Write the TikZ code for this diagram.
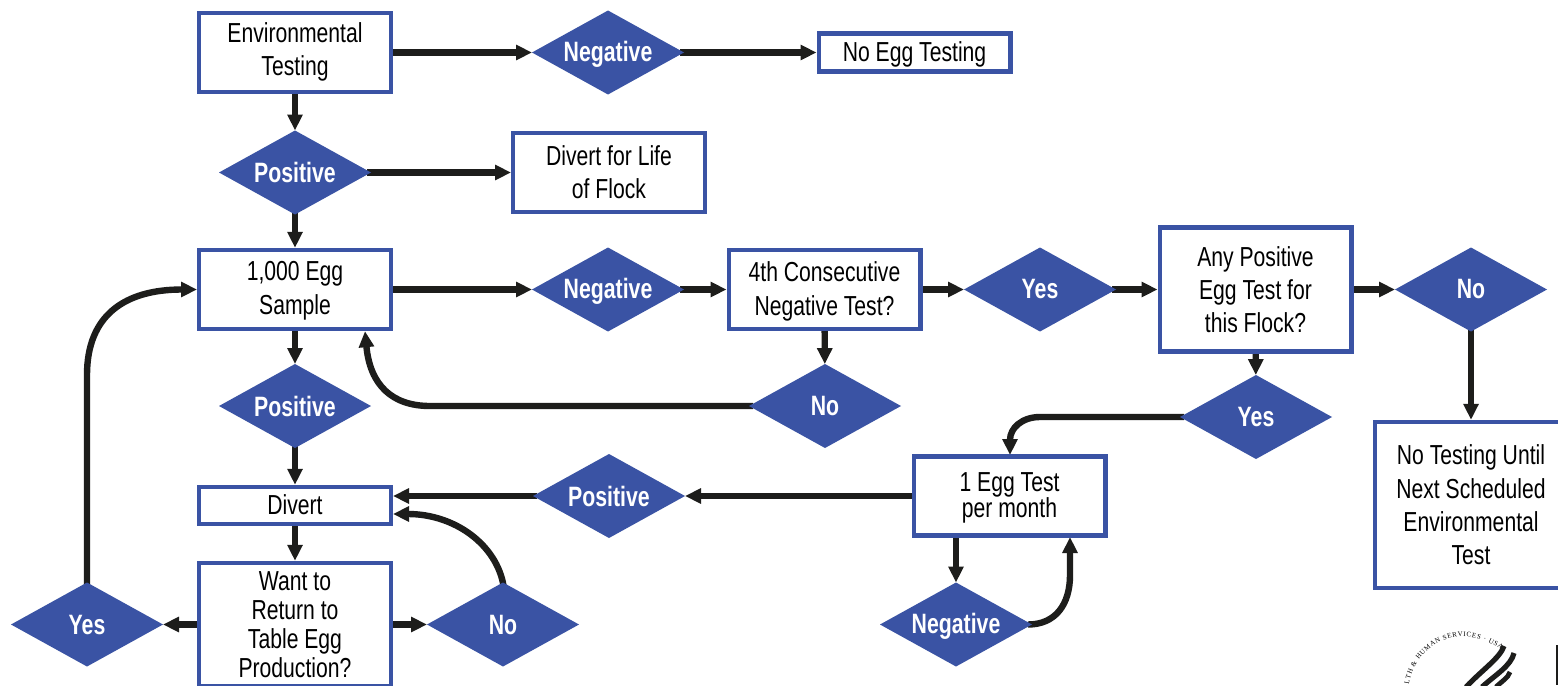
\documentclass[tikz,border=0pt]{standalone}
\usepackage{fontspec}
\setmainfont[FakeStretch=0.77,BoldFeatures={FakeStretch=0.76}]{Liberation Sans}
\newfontfamily\sealfont{Liberation Serif}
\usetikzlibrary{shapes.geometric,arrows.meta,decorations.text,backgrounds}
\definecolor{hhsblue}{HTML}{3A53A4}
\definecolor{ink}{HTML}{1D1D1B}
\tikzset{
  x=0.75pt,y=-0.75pt,
  boxnode/.style={draw=hhsblue,fill=white,line width=3.3pt,minimum width=143.7pt,inner sep=0pt,align=center,text=black},
  diam/.style={diamond,aspect=1.81,fill=hhsblue,minimum width=114pt,minimum height=63pt,inner sep=0pt,outer sep=0pt,text=white,font=\fontsize{21}{24}\selectfont\bfseries},
  conn/.style={draw=ink,line width=4.8pt,shorten <=-3pt,-{Triangle[length=12pt,width=11pt]}},
}
\newcommand{\ls}[1]{\fontsize{20.6}{#1}\selectfont}
\newcommand{\sh}[2]{\raisebox{#1}[\height][\depth]{#2}}
\begin{document}
\begin{tikzpicture}
\useasboundingbox (0,0) rectangle (1558,685);
\clip (0,0) rectangle (1558,685);
% boxes
\node[boxnode,minimum height=59.25pt,font=\ls{24.75}] (env) at (295,52.5) {\sh{0.5pt}{Environmental}\\\sh{0.5pt}{Testing}};
\node[boxnode,minimum height=28.5pt,font=\ls{24}] (noegg) at (914.5,52.5) {\sh{-1.5pt}{No Egg Testing}};
\node[boxnode,minimum height=59.25pt,font=\ls{24.75}] (life) at (609,172.5) {Divert for Life\\of Flock};
\node[boxnode,minimum height=59.25pt,font=\ls{25.5}] (thou) at (295,289.5) {\sh{-1pt}{1,000 Egg}\\\sh{-1pt}{Sample}};
\node[boxnode,minimum height=59.25pt,font=\ls{25.5}] (fourth) at (824.5,289.5) {\sh{-1.5pt}{4th Consecutive}\\\sh{-1.5pt}{Negative Test?}};
\node[boxnode,minimum height=93pt,font=\ls{24.75}] (any) at (1255.5,289.5) {Any Positive\\Egg Test for\\this Flock?};
\node[boxnode,minimum height=124.5pt,font=\ls{25}] (until) at (1471,505) {No Testing Until\\Next Scheduled\\Environmental\\Test};
\node[boxnode,minimum height=27.75pt,font=\ls{24}] (divert) at (295,505.5) {\sh{0.7pt}{Divert}};
\node[boxnode,minimum height=92.25pt,font=\ls{21.9}] (want) at (295,624.5) {Want to\\Return to\\Table Egg\\Production?};
\node[boxnode,minimum height=59.25pt,font=\ls{19.5}] (egg) at (1009.5,496) {\sh{-1.5pt}{1 Egg Test}\\\sh{-1.5pt}{per month}};
% diamonds
\node[diam] (d1) at (608,52.5) {\sh{-1.5pt}{Negative}};
\node[diam] (d2) at (295,172.5) {Positive};
\node[diam] (d3) at (608,289.5) {\sh{-1.5pt}{Negative}};
\node[diam] (d4) at (1040,289.5) {Yes};
\node[diam] (d5) at (1471,289.5) {No};
\node[diam] (d6) at (295,406) {Positive};
\node[diam] (d7) at (825,406) {No};
\node[diam] (d8) at (1256,417) {Yes};
\node[diam] (d9) at (609,496) {Positive};
\node[diam] (d10) at (87,624.5) {Yes};
\node[diam] (d11) at (503,624.5) {No};
\node[diam] (d12) at (956,624.5) {\sh{-1.5pt}{Negative}};
% free ends of connectors
\coordinate (thouin) at (thou.south -| 365,0);
\coordinate (eggtop) at (1010,455);
\coordinate (eggin) at (1070,537);
\coordinate (eggout) at (956,537);
\begin{pgfonlayer}{background}
\fill[white] (0,0) rectangle (1558,685);
% straight connectors
\draw[conn] (env) -- (d1);
\draw[conn] (d1) -- (noegg);
\draw[conn] (env) -- (d2);
\draw[conn] (d2) -- (life);
\draw[conn] (d2) -- (thou);
\draw[conn] (thou) -- (d3);
\draw[conn] (d3) -- (fourth);
\draw[conn] (fourth) -- (d4);
\draw[conn] (d4) -- (any);
\draw[conn] (any) -- (d5);
\draw[conn] (d5) -- (until);
\draw[conn] (any) -- (d8);
\draw[conn] (fourth) -- (d7);
\draw[conn] (thou) -- (d6);
\draw[conn] (d6) -- (divert);
\draw[conn] (divert) -- (want);
\draw[conn] (egg) -- (d9);
\draw[conn] (d9.west) -- (d9.west -| divert.east);
\draw[conn] (want) -- (d10);
\draw[conn] (want) -- (d11);
\draw[conn] (eggout) -- (d12);
% curved connectors
\draw[conn] (d10.north) -- (87,375) .. controls (87,315) and (125,289.5) .. (thou.west);
\draw[conn] (d7.west) -- (430,406) .. controls (392,406) and (370,385) .. (thouin);
\draw[conn] (d8.west) -- (1040,417) .. controls (1022,417) and (1010,428) .. (eggtop);
\draw[conn] (d11.north) .. controls (497,545) and (455,514) .. (divert.east |- 0,514);
\draw[conn] (d12.east) .. controls (1055,624.5) and (1070,605) .. (1070,575) -- (eggin);
\end{pgfonlayer}
% seal
\path[decorate,decoration={text along path,text={|\sealfont\fontsize{5.2}{6}\selectfont|LTH {\&} HUMAN SERVICES {\textperiodcentered} USA},text align=fit to path}]
  (1409,684) .. controls (1413,658) and (1436,636.5) .. (1463,636.5) .. controls (1476,636.5) and (1490,641.1) .. (1501,650);
\draw[ink,line width=3.9pt] (1466,687) .. controls (1482,670) and (1500,658) .. (1504,646);
\draw[ink,line width=3.9pt] (1482,687) .. controls (1495,675) and (1511,666) .. (1514,653);
\draw[ink,line width=3.6pt] (1496,687) .. controls (1502,681) and (1508,678) .. (1510,672);
\draw[ink,line width=1.2pt] (1557,645) -- (1557,685);
\end{tikzpicture}
\end{document}
